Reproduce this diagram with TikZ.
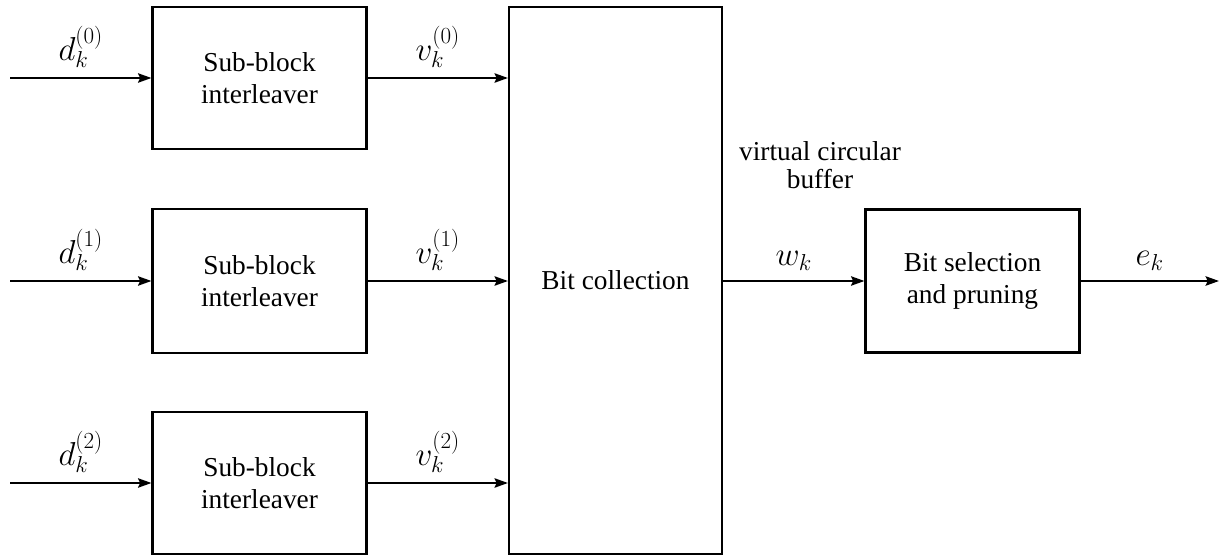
\documentclass[tikz,border=0pt]{standalone}
\usepackage{fontspec}
\setmainfont{Liberation Serif}
\usetikzlibrary{arrows.meta}
\begin{document}
\begin{tikzpicture}[x=0.75pt,y=-0.75pt,
  blk/.style={draw,line width=1.6pt,inner sep=0pt,align=center,font=\fontsize{20.5}{24}\selectfont},
  conn/.style={line width=1.6pt,-{Stealth[length=10pt,width=7pt,inset=1.5pt]}},
  lbl/.style={above=4pt,midway,font=\fontsize{24}{28}\selectfont}]
\useasboundingbox (0,0) rectangle (1221,559);
\node[blk,minimum width=214*0.75pt,minimum height=142*0.75pt] (sb0) at (259.5,78) {Sub-block\\interleaver};
\node[blk,minimum width=214*0.75pt,minimum height=144*0.75pt] (sb1) at (259.5,281) {Sub-block\\interleaver};
\node[blk,minimum width=214*0.75pt,minimum height=142*0.75pt] (sb2) at (259.5,483) {Sub-block\\interleaver};
\node[blk,minimum width=213*0.75pt,minimum height=547*0.75pt] (bc) at (615.5,280.5) {Bit collection};
\node[blk,minimum width=214*0.75pt,minimum height=143*0.75pt] (bs) at (972.5,281) {Bit selection\\and pruning};
\coordinate (i0) at (10,78);
\coordinate (i1) at (10,281);
\coordinate (i2) at (10,483);
\coordinate (o) at (1219,281);
\draw[conn] (i0) -- (sb0.west) node[lbl] {$d_k^{(0)}$};
\draw[conn] (i1) -- (sb1.west) node[lbl] {$d_k^{(1)}$};
\draw[conn] (i2) -- (sb2.west) node[lbl] {$d_k^{(2)}$};
\draw[conn] (sb0.east) -- (sb0.east -| bc.west) node[lbl] {$v_k^{(0)}$};
\draw[conn] (sb1.east) -- (sb1.east -| bc.west) node[lbl] {$v_k^{(1)}$};
\draw[conn] (sb2.east) -- (sb2.east -| bc.west) node[lbl] {$v_k^{(2)}$};
\draw[conn] (bc.east |- bs.west) -- (bs.west) node[lbl] {$w_k$};
\draw[conn] (bs.east) -- (o) node[lbl] {$e_k$};
\node[align=center,font=\fontsize{20.5}{21}\selectfont] (vcb) at (820,165) {virtual circular\\buffer};
\end{tikzpicture}
\end{document}
